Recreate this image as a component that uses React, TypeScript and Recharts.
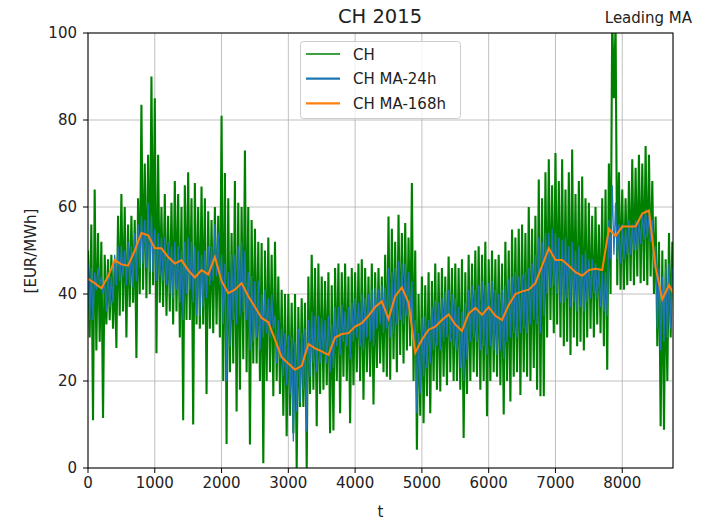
import { CartesianGrid, Line, LineChart, XAxis, YAxis } from 'recharts'

// hourly series is drawn as an alternating upper / lower envelope every 25 h
const STEP = 50

// CH hourly price, upper edge at t = 0, 50, 100 ... 8750
const chHigh = [
  50, 56, 64, 54, 52, 49, 48, 49, 47, 58,
  63, 60, 56, 58, 57, 62, 83.5, 70, 72, 90,
  85, 72, 60, 63, 58, 61, 66, 63, 60, 65,
  68, 62, 65.5, 60, 64.7, 62, 59, 57, 60, 58,
  81, 67.8, 62, 54, 66, 61, 60, 73, 60, 57,
  55, 52, 51.7, 50, 53, 49, 52, 44, 41, 40,
  40, 38, 40, 37, 39, 38, 44, 49, 46, 47,
  44, 43, 45, 42, 46, 47, 45, 47, 44, 46,
  45, 47, 48, 46, 44, 47, 45, 46, 44, 49,
  57.8, 55, 52, 58.2, 54, 56.3, 53, 65.5, 50, 40,
  44, 42, 45, 43, 47, 45, 46, 44, 48.6, 46,
  47, 46, 48, 45, 49, 47, 50, 51, 49, 52,
  48, 50, 48, 49, 47, 52, 50, 54.8, 53, 55,
  56, 54, 60, 55, 58, 66.3, 62, 68, 71, 65,
  72.4, 66, 71, 64, 68, 73.2, 63, 66, 67, 62,
  61, 58, 60, 56, 62, 64, 70, 104, 102, 68,
  64, 62, 66, 71, 69, 72, 70, 74, 72, 66,
  57.8, 52, 50, 48, 54, 52,
]

// CH hourly price, lower edge at t = 25, 75 ... 8725
const chLow = [
  30, 11, 27, 29, 11.5, 33, 34, 32, 27.6, 35,
  36, 30, 37, 38, 25.3, 40, 41, 39, 40, 42,
  26.4, 38, 37, 35, 36, 33, 36, 30, 11, 34,
  34, 10, 33, 32, 33, 17, 32, 31, 33, 30,
  20, 5.5, 22, 24, 13, 18, 25, 22, 5.4, 24,
  24, 20, 1.1, 20, 22, 16.5, 20, 17, 12, 7.3,
  12, 8, 0, 14, 14, 0, 17, 18, 9.6, 17,
  18, 19, 8, 8.6, 20, 12.6, 21, 20, 10.3, 19,
  22, 20, 15.7, 22, 21, 14.6, 23, 24, 22, 21,
  20.3, 25, 22, 26, 24, 27, 28, 20, 4.2, 12,
  10.3, 16.5, 12.6, 20, 18, 17.6, 21, 19, 22, 20,
  20, 18, 6.9, 17, 20, 22, 21, 18, 20, 11.9,
  20, 22, 21, 19, 12.3, 20, 15.3, 21, 22, 16.8,
  22, 21, 20, 23, 18, 16.5, 16.5, 30, 34, 31,
  33, 30, 28, 29, 26, 30, 28, 29, 27, 30,
  32, 30, 33, 31, 28, 22.6, 40, 85, 42, 41,
  41, 42, 43, 42, 44, 42.5, 43, 42, 44, 40,
  28, 9.6, 8.8, 20, 30,
]

// 24h moving average, upper / lower edge
const ma24High = [
  47, 46, 45, 46, 44, 43, 45, 44, 49, 51,
  51, 50, 52, 51, 54, 56, 58, 57, 61, 58,
  55, 54, 53, 53, 52, 51, 52, 51, 50, 52,
  53, 52, 51, 50, 49, 50, 51, 51, 56, 54,
  49, 47, 45, 49, 49, 51, 52, 50, 45, 44,
  43, 43, 40, 41, 39, 40, 35, 34, 32, 31,
  30.5, 30, 29, 32, 31, 32, 34, 36, 35, 35,
  34.5, 34, 35, 33, 37, 37, 37.5, 36, 37, 38,
  39, 38, 40, 39, 40, 41, 41.5, 41, 42, 41.5,
  46, 45, 46, 47.5, 47, 47, 45, 43, 34, 31,
  34.5, 35, 34, 37, 38.5, 38, 39, 40.5, 41, 40,
  39, 37, 36, 38, 41, 42, 41, 42, 43, 42,
  42.5, 43, 41, 40, 41, 42, 43.5, 44, 45, 44,
  44.5, 45, 46, 47, 49, 53, 52, 54, 54, 55,
  54, 53, 52.5, 53, 51, 52, 50, 51, 49, 50,
  48, 48, 47, 46, 45, 45, 57, 65, 61, 56,
  56, 55, 57, 56, 57, 57, 58.5, 59.5, 58, 57,
  51, 46, 44, 46, 47, 46,
]

const ma24Low = [
  34, 34, 41, 42, 40, 36, 37, 38, 42, 43,
  44, 42, 42, 41.5, 43, 46, 47, 46, 45, 45,
  43, 44, 43, 42, 40, 39, 41, 38, 34, 40,
  41, 38, 35, 35, 37, 39, 42, 43, 44, 42,
  33, 20, 28, 34, 33, 35, 36, 34, 27, 29,
  30, 27, 30, 31, 30, 32, 24, 25, 21, 19,
  17, 6.1, 13, 15, 18, 8.4, 21, 24, 22, 24,
  26, 24, 22, 23, 28, 26, 29, 28, 25, 29,
  30, 28, 27, 30, 29, 28, 32, 33, 31, 32,
  30, 31, 33, 34, 33, 35, 35, 28, 12.6, 17,
  21, 23, 24, 27, 28, 27, 29, 30, 29, 28,
  27, 23, 20, 25, 29, 30, 29, 27, 28, 26,
  28, 27, 26, 27, 25, 29, 30, 31, 30, 31,
  32, 31, 33, 34, 33, 31, 35, 40, 41.5, 42,
  40, 38, 38, 39, 37, 38, 36, 37, 36, 38,
  39, 40, 39, 37, 36, 35, 48, 49, 48, 47,
  48, 49, 49, 50, 50, 51.5, 52.5, 53, 52, 46,
  32, 27, 29, 30, 32,
]

// 168h moving average every 100 h, plus the last hour of the year
const ma168 = [
  43.5, 42.5, 41.3, 44, 47.8, 46.8, 46.5, 50, 54, 53.5,
  50.5, 50.5, 48.5, 47, 47.8, 45.5, 43.8, 45.5, 44.5, 48.5,
  43, 40.2, 41, 42.5, 39.5, 37, 34.5, 33.5, 29.5, 25.5,
  24, 22.6, 23.5, 28.5, 27.5, 26.8, 26, 30, 30.8, 31,
  32.5, 33.3, 35, 37, 38.3, 34.3, 39.5, 41.5, 38, 26.5,
  29.5, 31.8, 32.5, 34, 35.3, 33, 31.5, 35.5, 36.8, 35.2,
  37, 35, 34, 37.5, 40, 40.6, 41, 42.5, 46.5, 50.5,
  47.8, 47.8, 46.5, 45, 44.2, 45.5, 45.8, 45.5, 55, 53.3,
  55.5, 55.5, 55.5, 58.5, 59.2, 46, 38.8, 42,
]
const ma168End = 40.3
const LAST_HOUR = 8760

const xTicks = [0, 1000, 2000, 3000, 4000, 5000, 6000, 7000, 8000]
const yTicks = [0, 20, 40, 60, 80, 100]

type Pt = { t: number; v: number }

function envelope(high: number[], low: number[]): Pt[] {
  const out: Pt[] = []
  high.forEach((h, i) => {
    out.push({ t: i * STEP, v: h })
    if (i < low.length) out.push({ t: i * STEP + STEP / 2, v: low[i] })
  })
  return out
}

const chData = envelope(chHigh, chLow)
const ma24Data = envelope(ma24High, ma24Low)
const ma168Data: Pt[] = [
  ...ma168.map((v, i) => ({ t: i * 100, v })),
  { t: LAST_HOUR, v: ma168End },
]

const series = [
  { name: 'CH', color: '#008000', width: 2.1, legendWidth: 1.3, data: chData },
  { name: 'CH MA-24h', color: '#1f77b4', width: 1.3, legendWidth: 2.2, data: ma24Data },
  { name: 'CH MA-168h', color: '#ff7f0e', width: 2, legendWidth: 2.2, data: ma168Data },
]

const font = 'DejaVu Sans, Verdana, sans-serif'
const tickStyle = { fontSize: 15, fill: '#222', fontFamily: font }

export default function App() {
  return (
    <div style={{ position: 'absolute', left: 0, top: 0, width: 703, height: 521, background: '#fff', fontFamily: font }}>
      <LineChart width={703} height={521} margin={{ top: 33, right: 30, bottom: 0, left: 0 }}>
        <CartesianGrid stroke="#b0b0b0" strokeWidth={0.8} />
        <XAxis
          dataKey="t"
          type="number"
          domain={[0, LAST_HOUR]}
          ticks={xTicks}
          allowDataOverflow
          height={53}
          tickSize={5}
          tickMargin={4}
          axisLine={false}
          tickLine={{ stroke: '#000' }}
          tick={tickStyle}
        />
        <YAxis
          type="number"
          domain={[0, 100]}
          ticks={yTicks}
          allowDataOverflow
          width={88}
          tickSize={5}
          tickMargin={6}
          axisLine={false}
          tickLine={{ stroke: '#000' }}
          tick={tickStyle}
        />
        {series.map((s) => (
          <Line
            key={s.name}
            data={s.data}
            dataKey="v"
            type="linear"
            stroke={s.color}
            strokeWidth={s.width}
            strokeLinejoin="miter"
            dot={false}
            activeDot={false}
            isAnimationActive={false}
          />
        ))}
      </LineChart>

      <svg width={703} height={521} style={{ position: 'absolute', left: 0, top: 0, pointerEvents: 'none' }}>
        <rect x={88} y={33} width={585} height={435} fill="none" stroke="#000" strokeWidth={1} />
        <text x={380} y={22.7} textAnchor="middle" fontSize={19.5} fill="#222" fontFamily={font}>
          CH 2015
        </text>
        <text x={692} y={22.7} textAnchor="end" fontSize={15} fill="#222" fontFamily={font}>
          Leading MA
        </text>
        <text transform="translate(35.5,251) rotate(-90)" textAnchor="middle" fontSize={15} fill="#222" fontFamily={font}>
          [EUR/MWh]
        </text>
        <text x={380.5} y={516.5} textAnchor="middle" fontSize={15} fill="#222" fontFamily={font}>
          t
        </text>

        <rect x={300.5} y={41.5} width={160} height={77} rx={3} fill="#fff" fillOpacity={0.8} stroke="#cccccc" />
        {series.map((s, i) => {
          const y = 54 + i * 24.7
          return (
            <g key={s.name}>
              <line x1={306} x2={340} y1={y} y2={y} stroke={s.color} strokeWidth={s.legendWidth} />
              <text x={353} y={y + 5.5} fontSize={15} fill="#222" fontFamily={font}>
                {s.name}
              </text>
            </g>
          )
        })}
      </svg>
    </div>
  )
}
